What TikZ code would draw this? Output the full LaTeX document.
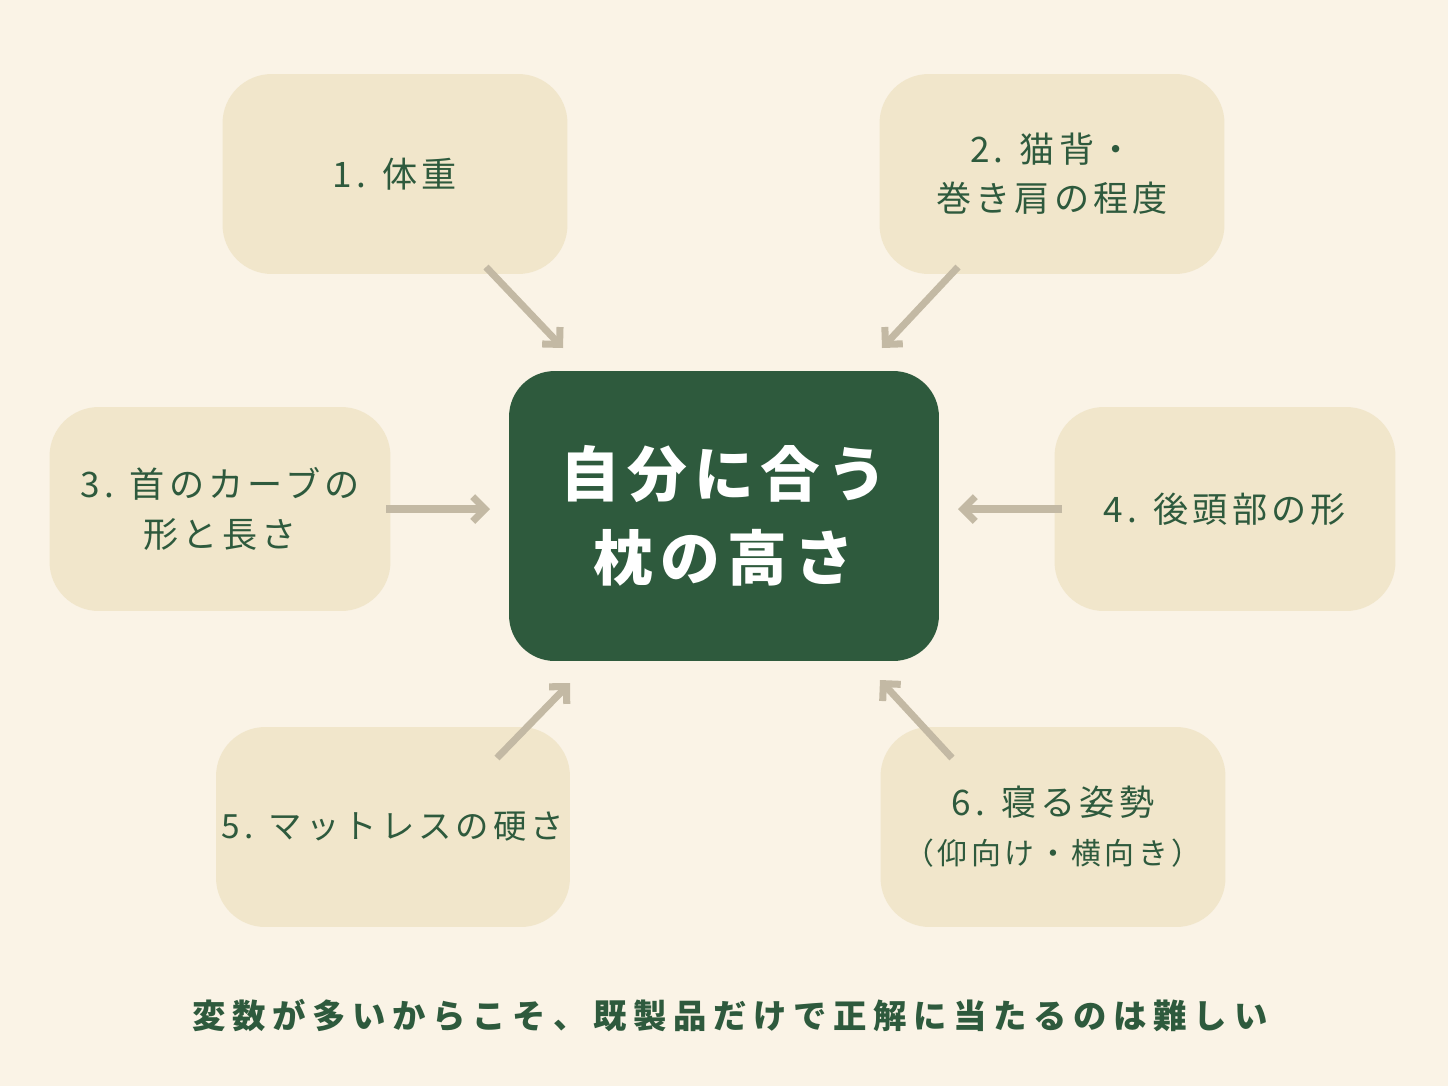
\documentclass[tikz,border=0pt]{standalone}
\usepackage{fontspec}
\setmainfont{Noto Sans CJK JP}[LetterSpace=12]
\usetikzlibrary{arrows.meta,positioning}
\definecolor{bgc}{HTML}{FAF3E6}
\definecolor{boxc}{HTML}{F1E6CB}
\definecolor{deep}{HTML}{2E5A3D}
\definecolor{arr}{HTML}{C3B9A4}
\tikzset{
    %Define standard arrow tip
    >={Straight Barb[length=7pt,width=14pt]},
    %Define style for boxes
    punkt/.style={
           rectangle,
           rounded corners=28pt,
           fill=boxc,
           minimum width=6.9cm,
           minimum height=4cm,
           text=deep,
           font=\fontsize{20}{28}\selectfont,
           align=center},
    core/.style={
           rectangle,
           rounded corners=26pt,
           fill=deep,
           text=white,
           minimum width=8.6cm,
           minimum height=5.8cm,
           font=\fontsize{34}{48}\selectfont\bfseries,
           align=center},
    % Define arrow style
    pil/.style={
           ->,
           arr,
           line width=4pt}
}
\begin{document}
\begin{tikzpicture}[x=0.02cm,y=-0.02cm]
\fill[bgc] (0,0) rectangle (1448,1086);

%center
\node[core] (pillow) at (724,516) {自分に合う\\枕の高さ};

%factors
\node[punkt] (weight) at (395,174) {1. 体重};
\node[punkt] (back) at (1052,174) {2. 猫背・\\巻き肩の程度};
\node[punkt, minimum width=6.82cm, minimum height=4.08cm] (neck) at (220,509) {3. 首のカーブの\\形と長さ};
\node[punkt, minimum width=6.82cm, minimum height=4.08cm] (head) at (1225,509) {4. 後頭部の形};
\node[punkt, font=\fontsize{19}{28}\selectfont] (mattress) at (393,827) {5. マットレスの硬さ};
\node[punkt] (posture) at (1053,827) {6. 寝る姿勢\\{\fontsize{17}{24}\selectfont（仰向け・横向き）}};

%arrow ends
\coordinate (a1) at (486,267); \coordinate (b1) at (563,348);
\coordinate (a2) at (958,267); \coordinate (b2) at (882,348);
\coordinate (a3) at (386,509); \coordinate (b3) at (490,509);
\coordinate (a4) at (1062,509); \coordinate (b4) at (958,509);
\coordinate (a5) at (497,758); \coordinate (b5) at (570,683);
\coordinate (a6) at (952,758); \coordinate (b6) at (880,680);
\foreach \i in {1,...,6}
  \draw[pil] (a\i) -- (b\i);

%note
\node[text=deep, font=\fontsize{19}{24}\selectfont\bfseries\addfontfeature{LetterSpace=20}] (note) at (730,1016)
  {変数が多いからこそ、既製品だけで正解に当たるのは難しい};
\end{tikzpicture}
\end{document}
